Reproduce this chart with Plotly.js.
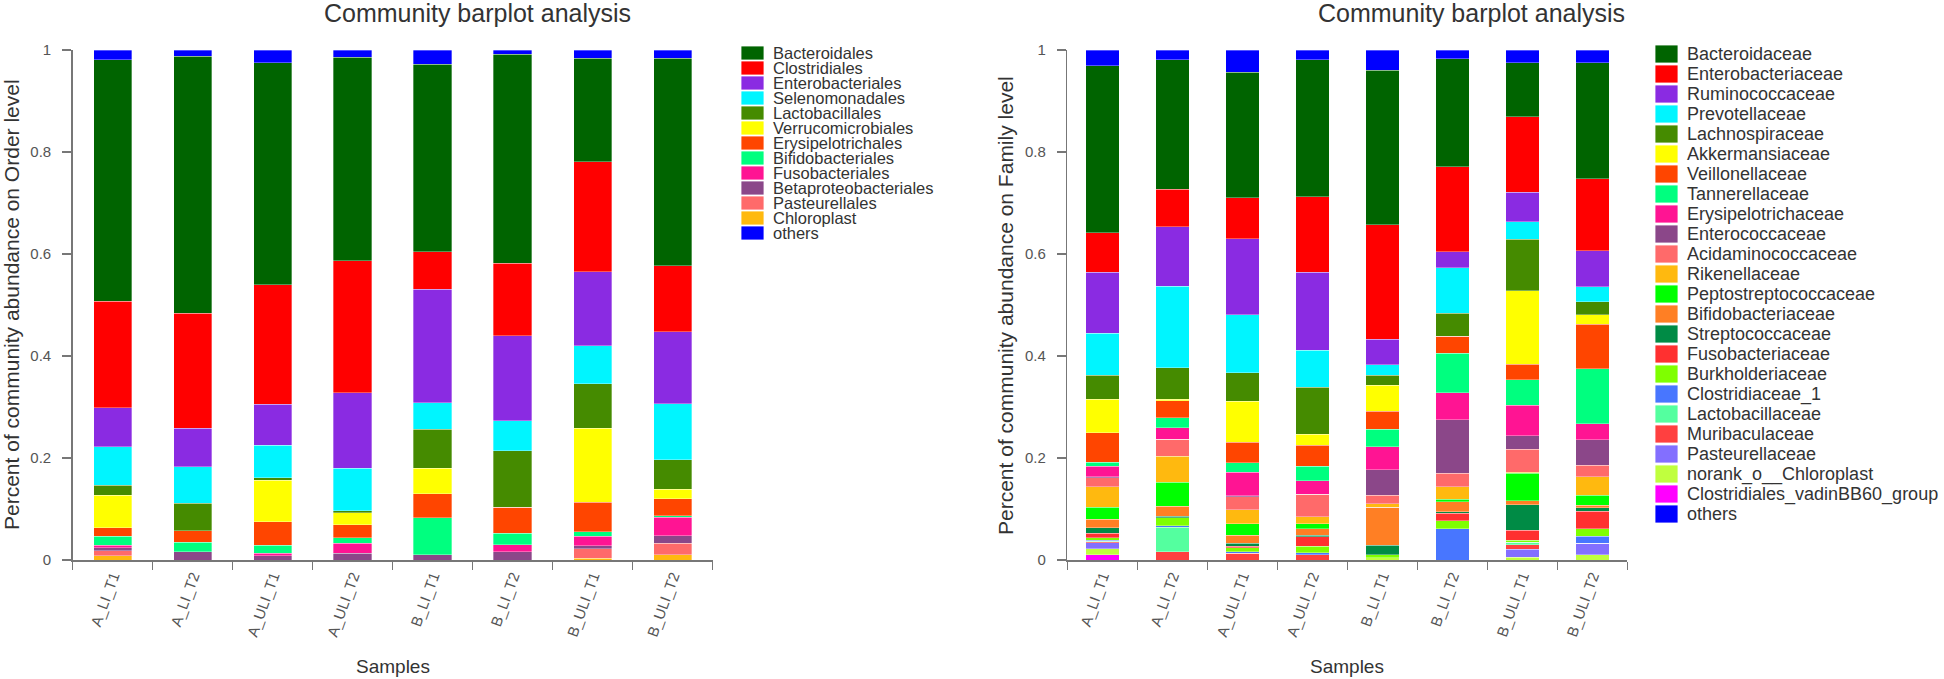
<!DOCTYPE html>
<html>
<head>
<meta charset="utf-8">
<script src="https://cdn.plot.ly/plotly-3.0.1.min.js"></script>
<style>html,body{margin:0;padding:0;background:#fff;}#chart{width:1944px;height:679px;}</style>
</head>
<body>
<div id="chart"></div>
<script>
// ---------------- DATA ----------------
const samples = ["A_LI_T1","A_LI_T2","A_ULI_T1","A_ULI_T2","B_LI_T1","B_LI_T2","B_ULI_T1","B_ULI_T2"];

// Order level (legend order, top of legend first)
const orderNames = ["Bacteroidales","Clostridiales","Enterobacteriales","Selenomonadales","Lactobacillales","Verrucomicrobiales","Erysipelotrichales","Bifidobacteriales","Fusobacteriales","Betaproteobacteriales","Pasteurellales","Chloroplast","others"];
const orderColors = ["#006400","#FF0000","#8A2BE2","#00F5FF","#458B00","#FFFF00","#FF4500","#00FF7F","#FF1493","#8B4789","#FF6A6A","#FFB90F","#0000FF"];
const ordBacteroidales        = [0.474,0.504,0.435,0.399,0.368,0.410,0.203,0.407];
const ordClostridiales        = [0.208,0.226,0.235,0.259,0.073,0.142,0.216,0.129];
const ordEnterobacteriales    = [0.077,0.075,0.080,0.148,0.223,0.167,0.145,0.142];
const ordSelenomonadales      = [0.075,0.072,0.064,0.083,0.052,0.059,0.074,0.109];
const ordLactobacillales      = [0.020,0.054,0.005,0.004,0.076,0.111,0.088,0.058];
const ordVerrucomicrobiales   = [0.064,0.000,0.081,0.024,0.050,0.000,0.145,0.019];
const ordErysipelotrichales   = [0.016,0.022,0.046,0.025,0.047,0.051,0.058,0.033];
const ordBifidobacteriales    = [0.018,0.019,0.016,0.011,0.0725,0.022,0.008,0.003];
const ordFusobacteriales      = [0.005,0.000,0.0045,0.020,0.000,0.014,0.019,0.036];
const ordBetaproteobacteriales= [0.006,0.016,0.0085,0.013,0.0105,0.016,0.006,0.015];
const ordPasteurellales       = [0.010,0.000,0.000,0.000,0.000,0.000,0.019,0.0225];
const ordChloroplast          = [0.008,0.000,0.000,0.000,0.000,0.000,0.003,0.0105];
const ordOthers               = [0.019,0.012,0.025,0.014,0.028,0.008,0.016,0.016];
const orderValues = [ordBacteroidales,ordClostridiales,ordEnterobacteriales,ordSelenomonadales,ordLactobacillales,ordVerrucomicrobiales,ordErysipelotrichales,ordBifidobacteriales,ordFusobacteriales,ordBetaproteobacteriales,ordPasteurellales,ordChloroplast,ordOthers];

// Family level
const familyNames = ["Bacteroidaceae","Enterobacteriaceae","Ruminococcaceae","Prevotellaceae","Lachnospiraceae","Akkermansiaceae","Veillonellaceae","Tannerellaceae","Erysipelotrichaceae","Enterococcaceae","Acidaminococcaceae","Rikenellaceae","Peptostreptococcaceae","Bifidobacteriaceae","Streptococcaceae","Fusobacteriaceae","Burkholderiaceae","Clostridiaceae_1","Lactobacillaceae","Muribaculaceae","Pasteurellaceae","norank_o__Chloroplast","Clostridiales_vadinBB60_group","others"];
const familyColors = ["#006400","#FF0000","#8A2BE2","#00F5FF","#458B00","#FFFF00","#FF4500","#00FF7F","#FF1493","#8B4789","#FF6A6A","#FFB90F","#00FF00","#FF7F24","#008B45","#FF3030","#7FFF00","#4876FF","#54FF9F","#FF4040","#836FFF","#C0FF3E","#FF00FF","#0000FF"];
const famBacteroidaceae       = [0.327,0.254,0.246,0.269,0.303,0.212,0.106,0.227];
const famEnterobacteriaceae   = [0.078,0.074,0.080,0.148,0.224,0.167,0.148,0.142];
const famRuminococcaceae      = [0.119,0.116,0.149,0.153,0.050,0.031,0.058,0.070];
const famPrevotellaceae       = [0.083,0.160,0.114,0.072,0.021,0.089,0.034,0.030];
const famLachnospiraceae      = [0.047,0.062,0.056,0.092,0.019,0.045,0.101,0.025];
const famAkkermansiaceae      = [0.065,0.003,0.080,0.022,0.051,0.000,0.144,0.019];
const famVeillonellaceae      = [0.058,0.033,0.040,0.041,0.036,0.034,0.031,0.087];
const famTannerellaceae       = [0.008,0.020,0.019,0.029,0.034,0.077,0.050,0.108];
const famErysipelotrichaceae  = [0.021,0.022,0.046,0.026,0.045,0.053,0.059,0.031];
const famEnterococcaceae      = [0.002,0.000,0.002,0.000,0.050,0.105,0.027,0.050];
const famAcidaminococcaceae   = [0.017,0.034,0.025,0.044,0.017,0.026,0.045,0.023];
const famRikenellaceae        = [0.041,0.051,0.028,0.014,0.007,0.025,0.002,0.036];
const famPeptostreptococcaceae= [0.023,0.047,0.022,0.010,0.000,0.005,0.054,0.020];
const famBifidobacteriaceae   = [0.017,0.019,0.016,0.012,0.074,0.019,0.008,0.005];
const famStreptococcaceae     = [0.011,0.003,0.006,0.003,0.019,0.003,0.050,0.006];
const famFusobacteriaceae     = [0.008,0.000,0.003,0.019,0.000,0.015,0.019,0.035];
const famBurkholderiaceae     = [0.005,0.016,0.008,0.013,0.006,0.016,0.004,0.014];
const famClostridiaceae1      = [0.002,0.003,0.003,0.004,0.000,0.061,0.000,0.014];
const famLactobacillaceae     = [0.001,0.048,0.000,0.000,0.000,0.000,0.005,0.000];
const famMuribaculaceae       = [0.002,0.016,0.013,0.010,0.000,0.000,0.009,0.000];
const famPasteurellaceae      = [0.012,0.000,0.000,0.000,0.000,0.000,0.016,0.023];
const famNorankChloroplast    = [0.012,0.000,0.000,0.000,0.004,0.000,0.005,0.010];
const famVadinBB60            = [0.010,0.000,0.000,0.000,0.000,0.000,0.000,0.000];
const famOthers               = [0.031,0.019,0.044,0.019,0.040,0.017,0.025,0.025];
const familyValues = [famBacteroidaceae,famEnterobacteriaceae,famRuminococcaceae,famPrevotellaceae,famLachnospiraceae,famAkkermansiaceae,famVeillonellaceae,famTannerellaceae,famErysipelotrichaceae,famEnterococcaceae,famAcidaminococcaceae,famRikenellaceae,famPeptostreptococcaceae,famBifidobacteriaceae,famStreptococcaceae,famFusobacteriaceae,famBurkholderiaceae,famClostridiaceae1,famLactobacillaceae,famMuribaculaceae,famPasteurellaceae,famNorankChloroplast,famVadinBB60,famOthers];

const yTickVals = [0,0.2,0.4,0.6,0.8,1];
const yTickText = ["0","0.2","0.4","0.6","0.8","1"];

// ---------------- LAYOUT GEOMETRY (pixels) ----------------
const W = 1944, H = 679;
const FONT = "Liberation Sans, Arial, Helvetica, sans-serif";
const plotTop = 50, plotBottom = 560;
const panels = [
  {xa:"x", ya:"y", left:72.7, right:712.7, names:orderNames, colors:orderColors, values:orderValues,
   title:"Community barplot analysis", titleX:477, ytitle:"Percent of community abundance on Order level", ytitleX:11,
   legBoxX:741, legTextX:771, legY0:53, legStep:15, legBoxH:14, legFont:16.5},
  {xa:"x2", ya:"y2", left:1067.3, right:1627.3, names:familyNames, colors:familyColors, values:familyValues,
   title:"Community barplot analysis", titleX:1471, ytitle:"Percent of community abundance on Family level", ytitleX:1005,
   legBoxX:1655, legTextX:1685, legY0:54, legStep:20, legBoxH:18, legFont:18}
];
const px = v => v / W;
const py = v => 1 - v / H;

const traces = [];
const shapes = [];
const annotations = [];

panels.forEach(p => {
  const n = p.names.length;
  // stacking: last legend entry before "others" at bottom, "others" on top
  const order = [];
  for (let i = n - 2; i >= 0; i--) order.push(i);
  order.push(n - 1);
  order.forEach(i => {
    traces.push({
      type: "bar", x: samples, y: p.values[i], name: p.names[i],
      xaxis: p.xa, yaxis: p.ya, showlegend: false,
      marker: {color: p.colors[i], line: {width: 0.6, color: "rgba(255,255,255,0.55)"}},
      hoverinfo: "name+y"
    });
  });
  // manual legend
  p.names.forEach((nm, i) => {
    const cy = p.legY0 + p.legStep * i;
    shapes.push({type: "rect", xref: "paper", yref: "paper",
      x0: px(p.legBoxX), x1: px(p.legBoxX + 23), y0: py(cy + p.legBoxH / 2), y1: py(cy - p.legBoxH / 2),
      fillcolor: p.colors[i], line: {width: 1, color: "rgba(255,255,255,0.8)"}});
    annotations.push({xref: "paper", yref: "paper", x: px(p.legTextX), y: py(cy),
      xanchor: "left", yanchor: "middle", showarrow: false, text: nm,
      font: {family: FONT, size: p.legFont, color: "#333"}});
  });
  // titles
  annotations.push({xref: "paper", yref: "paper", x: px(p.titleX), y: py(13), xanchor: "center", yanchor: "middle",
    showarrow: false, text: p.title, font: {family: FONT, size: 25, color: "#333"}});
  annotations.push({xref: "paper", yref: "paper", x: px(p.ytitleX), y: py((plotTop + plotBottom) / 2), xanchor: "center", yanchor: "middle",
    showarrow: false, text: p.ytitle, textangle: -90, font: {family: FONT, size: 21, color: "#333"}});
  annotations.push({xref: "paper", yref: "paper", x: px((p.left + p.right) / 2), y: py(666), xanchor: "center", yanchor: "middle",
    showarrow: false, text: "Samples", font: {family: FONT, size: 19, color: "#333"}});
});

function xAxis(p) {
  return {domain: [px(p.left), px(p.right)], anchor: p.ya, type: "category", categoryorder: "array", categoryarray: samples,
    range: [-0.5, 7.5], tickson: "boundaries", ticks: "outside", ticklen: 8, tickwidth: 1.5, tickcolor: "#777",
    showline: true, linecolor: "#777", linewidth: 1.5, showgrid: false, zeroline: false,
    tickangle: -70, tickfont: {family: FONT, size: 15, color: "#555"}, fixedrange: true};
}
function yAxis(p) {
  return {domain: [py(plotBottom), py(plotTop)], anchor: p.xa, range: [0, 1],
    tickmode: "array", tickvals: yTickVals, ticktext: yTickText, ticks: "outside", ticklen: 9, tickwidth: 1.5, tickcolor: "#777",
    ticklabelstandoff: 8,
    showline: true, linecolor: "#777", linewidth: 1.5, showgrid: false, zeroline: false,
    tickfont: {family: FONT, size: 15, color: "#555"}, fixedrange: true};
}

const layout = {
  width: W, height: H, autosize: false,
  margin: {l: 0, r: 0, t: 0, b: 0, pad: 0},
  paper_bgcolor: "#fff", plot_bgcolor: "#fff",
  barmode: "stack", bargap: 0.52,
  showlegend: false,
  font: {family: FONT, color: "#333"},
  xaxis: xAxis(panels[0]), yaxis: yAxis(panels[0]),
  xaxis2: xAxis(panels[1]), yaxis2: yAxis(panels[1]),
  shapes: shapes, annotations: annotations
};

Plotly.newPlot("chart", traces, layout, {displayModeBar: false, staticPlot: true});
</script>
</body>
</html>
